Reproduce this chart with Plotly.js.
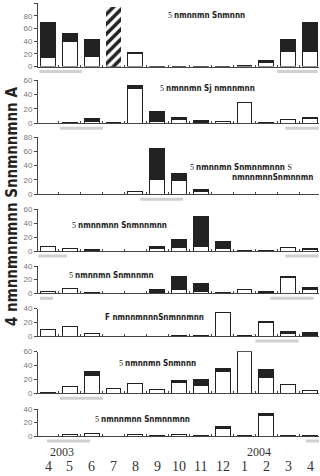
<!DOCTYPE html>
<html><head><meta charset="utf-8">
<script src="https://cdn.plot.ly/plotly-3.0.1.min.js"></script>
<style>html,body{margin:0;padding:0;background:#fff}#c{width:320px;height:476px}</style>
</head><body><div id="c"></div>
<script>
// ---- data ----
const categories = ['2003-04','2003-05','2003-06','2003-07','2003-08','2003-09','2003-10','2003-11','2003-12','2004-01','2004-02','2004-03','2004-04'];
const monthLabels = ['4','5','6','7','8','9','10','11','12','1','2','3','4'];
const yearLabels = ['2003','2004'];

const p1White = [15,40,16,0,20,0.5,0,0.5,0,1,7,23,24];
const p1Black = [55,12,26,0,2,0,0,0,0,0.5,3,19,46];
const p1Hatched = [0,0,0,94,0,0,0,0,0,0,0,0,0];
const p2White = [0,0.5,3,0.5,48,3,5.5,0.5,2,29,0.5,5.5,7];
const p2Black = [0,0,3,0,5,13,3,4,0,0,0,0,0.5];
const p3White = [0,0,0,0,4,21,19,4.5,0,0,0,0,0];
const p3Black = [0,0,0,0,0,43,10,2.5,0,0,0,0,0];
const p4White = [6,4,1,0,0,3,5,7,4,0.5,1,5,2];
const p4Black = [0,0,0.5,0,0,3,11,42,9,0,0,0,2];
const p5White = [3,7,0.5,0,0,0.5,6,3,1,5,0.5,23,6];
const p5Black = [0,0,0.5,0,0,5.5,19,11,0,0,2,1.5,2];
const p6White = [9,13.5,4,0,0,0,1,1,34,1,19.5,4,1];
const p6Black = [0,0,0,0,0,0,0,0,0,0,1,3,3.5];
const p7White = [1,9.5,25,7,14,5,16,10.5,32,60,23,13,4];
const p7Black = [0,0,6,0,0,0,3,9.5,4,0,10.5,0,0];
const p8White = [0,1.5,4,0,2,0.5,1.5,0.5,11.5,1,30,0.5,0.5];
const p8Black = [0,0,0,0,0,0,0,0,2.5,0,3,0,0];

const panelMax = [100,60,80,60,40,40,60,40];
const S5 = '<span style="font-family:Liberation Serif;font-weight:normal">5 </span>';
const panelTitles = [S5+'nmnnmn Snmnnn', S5+'nmnnmn Sj nmnnmnn', S5+'nmnnmn Snmnnmnnn <span style="font-family:Liberation Serif;font-weight:normal">S</span>', S5+'nmnnmnn Snmnnmnn', S5+'nmnnmn Snmnnmn', 'F nmnnmnnnSnmnnmnn', S5+'nmnnmn Snmnnn', S5+'nmnnmnn Snmnnmnn'];
const panelTitle3b = 'nmnnmnnSnmnnmn';
const yTitle = '4 nmnnmnnmnn Snnmnnmnn A';
// sampling periods (category index units) per panel
const periods = [[[-0.4,1.55],[10.5,12.35]],[[0.55,2.52],[10.87,12.4]],[[4.22,6.19]],[[-0.45,0.87],[10.87,12.4]],[[-0.37,0.23],[10.18,12.16]],[[9.5,11.47]],[[0.55,2.52]],[[-0.05,1.93],[11.8,12.5]]];

const whites = [p1White,p2White,p3White,p4White,p5White,p6White,p7White,p8White];
const blacks = [p1Black,p2Black,p3Black,p4Black,p5Black,p6Black,p7Black,p8Black];

// ---- layout geometry (pixels) ----
const W=320,H=476;
const panelPx = [[3.3,66.5],[80,123.3],[137,194.3],[209,251],[266,293.3],[308.5,336],[351.5,393.3],[409,436]];
const titlePx = [[166,15],[158,88],[188,167],[70,225],[67,275],[103,317],[117,363],[93,419]];
const px=x=>x/W, py=y=>1-y/H;

const traces=[];
const layout={width:W,height:H,margin:{l:0,r:0,t:0,b:0},showlegend:false,barmode:'stack',
  paper_bgcolor:'#fff',plot_bgcolor:'#fff',shapes:[],annotations:[],bargap:0.3};
const dark='#222';
const labFont={family:'DejaVu Sans Condensed, sans-serif',size:8,color:dark,weight:'bold'};
for(let i=0;i<8;i++){
  const s=i===0?'':String(i+1);
  const xa='x'+s, ya='y'+s;
  traces.push({type:'bar',x:categories,y:whites[i],xaxis:xa,yaxis:ya,width:0.68,
    marker:{color:'#fff',line:{color:dark,width:1}},hoverinfo:'skip'});
  traces.push({type:'bar',x:categories,y:blacks[i],xaxis:xa,yaxis:ya,width:0.68,
    marker:{color:dark,line:{color:dark,width:1}},hoverinfo:'skip'});
  if(i===0){
    traces.push({type:'bar',x:categories,y:p1Hatched,xaxis:xa,yaxis:ya,width:0.68,
      marker:{color:'#fff',line:{color:'#fff',width:0},pattern:{shape:'/',fgcolor:dark,bgcolor:'#fff',size:7,solidity:0.5}},hoverinfo:'skip'});
  }
  const [top,bot]=panelPx[i];
  layout['xaxis'+s]={domain:[px(38),px(319)],anchor:ya,type:'category',range:[-0.458,12.41],
    showline:true,linecolor:'#444',linewidth:1,ticks:'inside',tickson:'boundaries',ticklen:2,tickcolor:'#444',
    showticklabels:false,showgrid:false,zeroline:false,fixedrange:true};
  layout['yaxis'+s]={domain:[py(bot),py(top)],anchor:xa,range:[0,panelMax[i]],dtick:20,
    showline:true,linecolor:'#444',linewidth:1,ticks:'outside',ticklen:3,tickcolor:'#444',
    tickfont:{family:'Liberation Sans, Arial, sans-serif',size:8,color:'#777'},
    showgrid:false,zeroline:false,fixedrange:true};
  periods[i].forEach(p=>{
    layout.shapes.push({type:'rect',xref:xa,yref:'paper',x0:p[0],x1:p[1],y0:py(bot+6.5),y1:py(bot+3.5),
      fillcolor:'#d0d0d0',line:{width:0}});
  });
  layout.annotations.push({xref:'paper',yref:'paper',x:px(titlePx[i][0]),y:py(titlePx[i][1]),xanchor:'left',yanchor:'middle',
    text:panelTitles[i],showarrow:false,font:labFont});
}
layout.annotations.push({xref:'paper',yref:'paper',x:px(315),y:py(177),xanchor:'right',yanchor:'middle',
  text:panelTitle3b,showarrow:false,font:labFont});
// month labels
categories.forEach((c,k)=>{
  layout.annotations.push({xref:'x8',yref:'paper',x:c,y:py(466),xanchor:'center',yanchor:'middle',text:monthLabels[k],
    showarrow:false,font:{family:'Liberation Serif, Times New Roman, serif',size:14,color:'#333'}});
});
layout.annotations.push({xref:'x8',yref:'paper',x:categories[0],y:py(452),xanchor:'left',yanchor:'middle',text:yearLabels[0],
  showarrow:false,font:{family:'Liberation Serif, Times New Roman, serif',size:12,color:'#333'}});
layout.annotations.push({xref:'x8',yref:'paper',x:categories[9],y:py(452),xanchor:'left',yanchor:'middle',text:yearLabels[1],
  showarrow:false,font:{family:'Liberation Serif, Times New Roman, serif',size:12,color:'#333'}});
// y title
layout.annotations.push({xref:'paper',yref:'paper',x:px(12),y:py(207),xanchor:'center',yanchor:'middle',textangle:-90,
  text:yTitle,showarrow:false,
  font:{family:'DejaVu Sans Condensed, sans-serif',size:15,color:dark,weight:'bold'}});

Plotly.newPlot('c',traces,layout,{staticPlot:true,displayModeBar:false});
</script></body></html>
